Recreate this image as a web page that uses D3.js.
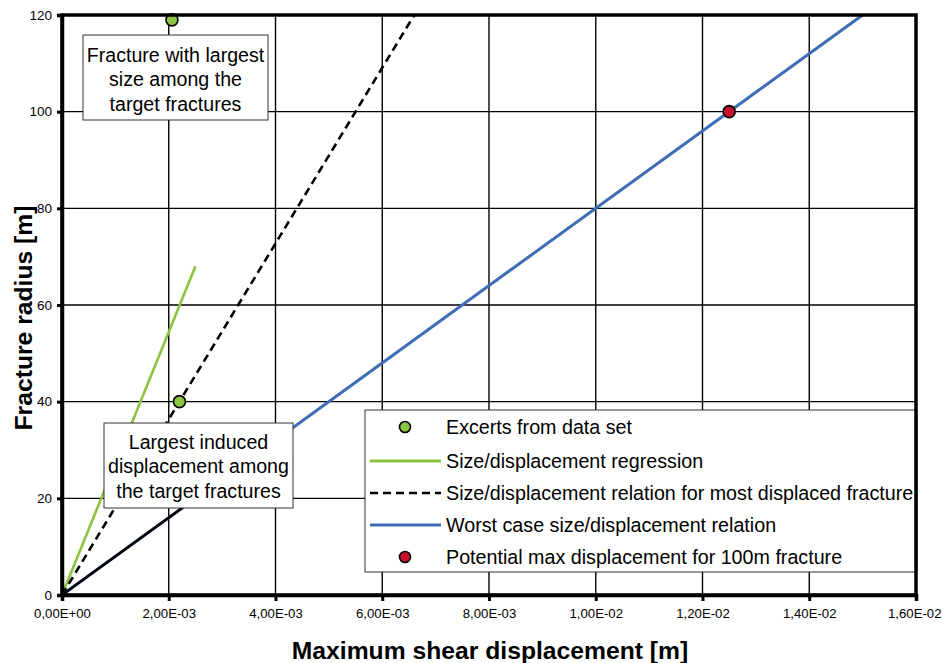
<!DOCTYPE html>
<html>
<head>
<meta charset="utf-8">
<script src="https://cdn.jsdelivr.net/npm/d3@7"></script>
<style>
  html, body { margin: 0; padding: 0; background: #fff; }
  svg { display: block; font-family: Arial, "Liberation Sans", sans-serif; }
</style>
</head>
<body>
<svg id="chart" width="942" height="663"></svg>
<script>
// Axis ticks
const xTicks = [0, 0.002, 0.004, 0.006, 0.008, 0.010, 0.012, 0.014, 0.016];
const xTickLabels = ["0,00E+00", "2,00E-03", "4,00E-03", "6,00E-03", "8,00E-03", "1,00E-02", "1,20E-02", "1,40E-02", "1,60E-02"];
const yTicks = [0, 20, 40, 60, 80, 100, 120];

// Sample fractures (displacement [m], radius [m])
const excerpts = [[0.00206, 119], [0.0022, 40]];
// Size/displacement regression
const regression = [[0, 0], [0.0025, 68]];
// Relation through the most displaced fracture
const mostDisplaced = [[0, 0], [0.0066, 120]];
// Worst case relation
const worstCase = [[0, 0], [0.015, 120]];
// Potential max displacement for a 100 m fracture
const potentialMax = [[0.0125, 100]];

const legendItems = [
  { type: "dot", color: "#8cc43f", label: "Excerts from data set" },
  { type: "line", color: "#8cc43f", dash: null, label: "Size/displacement regression" },
  { type: "line", color: "#000", dash: "8,5", label: "Size/displacement relation for most displaced fracture" },
  { type: "line", color: "#3f6db5", dash: null, label: "Worst case size/displacement relation" },
  { type: "dot", color: "#c8102e", label: "Potential max displacement for 100m fracture" }
];

const svg = d3.select("#chart");
const plotL = 62, plotR = 916, plotT = 15, plotB = 595;

const x = d3.scaleLinear().domain([0, 0.016]).range([plotL, plotR]);
const y = d3.scaleLinear().domain([0, 120]).range([plotB, plotT]);

// Grid
const grid = svg.append("g");
grid.selectAll("line.v").data(xTicks).join("line")
  .attr("x1", d => x(d)).attr("x2", d => x(d))
  .attr("y1", plotT).attr("y2", plotB)
  .attr("stroke", "#000").attr("stroke-width", 1.4);
grid.selectAll("line.h").data(yTicks).join("line")
  .attr("x1", plotL).attr("x2", plotR)
  .attr("y1", d => y(d)).attr("y2", d => y(d))
  .attr("stroke", "#000").attr("stroke-width", 1.4);

const line = d3.line().x(d => x(d[0])).y(d => y(d[1]));

// Series lines
svg.append("path").datum(worstCase).attr("d", line)
  .attr("fill", "none").attr("stroke", "#3f6db5").attr("stroke-width", 3);
svg.append("path").datum(regression).attr("d", line)
  .attr("fill", "none").attr("stroke", "#8cc43f").attr("stroke-width", 2.6);
svg.append("path").datum(mostDisplaced).attr("d", line)
  .attr("fill", "none").attr("stroke", "#000").attr("stroke-width", 2.6)
  .attr("stroke-dasharray", "8,5");

// Callout leader for the displacement note, along the worst-case line
svg.append("path").datum([[0, 0], [0.00228, 18.24]]).attr("d", line)
  .attr("fill", "none").attr("stroke", "#000").attr("stroke-width", 2.6);

// Points
svg.selectAll("circle.ex").data(excerpts).join("circle")
  .attr("cx", d => x(d[0])).attr("cy", d => y(d[1])).attr("r", 6)
  .attr("fill", "#8cc43f").attr("stroke", "#000").attr("stroke-width", 1.6);
svg.selectAll("circle.pm").data(potentialMax).join("circle")
  .attr("cx", d => x(d[0])).attr("cy", d => y(d[1])).attr("r", 6)
  .attr("fill", "#c8102e").attr("stroke", "#000").attr("stroke-width", 1.6);

// Annotation boxes
function note(x0, y0, w, h, lines, cx, firstBaseline, step) {
  svg.append("rect").attr("x", x0).attr("y", y0).attr("width", w).attr("height", h)
    .attr("fill", "#fff").attr("stroke", "#333").attr("stroke-width", 1);
  svg.append("text").attr("text-anchor", "middle").attr("font-size", 19.6).attr("fill", "#000")
    .selectAll("tspan").data(lines).join("tspan")
    .attr("x", cx).attr("y", (d, i) => firstBaseline + i * step).text(d => d);
}
note(83, 35, 185, 85, ["Fracture with largest", "size among the", "target fractures"], 175.5, 61.5, 24.5);
note(104, 423, 189, 85, ["Largest induced", "displacement among", "the target fractures"], 198.5, 448.5, 24.8);

// Legend
const lg = svg.append("g");
lg.append("rect").attr("x", 365).attr("y", 410).attr("width", 552).attr("height", 162)
  .attr("fill", "#fff").attr("stroke", "#333").attr("stroke-width", 1);
const rowY = [427, 461, 493, 525, 557];
legendItems.forEach((it, i) => {
  const yy = rowY[i];
  if (it.type === "dot") {
    lg.append("circle").attr("cx", 405).attr("cy", yy).attr("r", 5.5)
      .attr("fill", it.color).attr("stroke", "#000").attr("stroke-width", 1.6);
  } else {
    lg.append("line").attr("x1", 370).attr("x2", 441).attr("y1", yy).attr("y2", yy)
      .attr("stroke", it.color).attr("stroke-width", it.dash ? 2.6 : 3)
      .attr("stroke-dasharray", it.dash);
  }
  lg.append("text").attr("x", 446).attr("y", yy + 7).attr("font-size", 19.7)
    .attr("fill", "#000").text(it.label);
});

// Plot frame
svg.append("rect").attr("x", plotL).attr("y", plotT).attr("width", plotR - plotL).attr("height", plotB - plotT)
  .attr("fill", "none").attr("stroke", "#000").attr("stroke-width", 3.5);

// Axes
const xAxis = d3.axisBottom(x).tickValues(xTicks)
  .tickFormat((d, i) => xTickLabels[i]).tickSize(6).tickPadding(8);
const gx = svg.append("g").attr("transform", `translate(0,${plotB})`).call(xAxis);
gx.select(".domain").attr("stroke-width", 3.5);
gx.selectAll(".tick line").attr("stroke-width", 3);
gx.selectAll(".tick text").attr("font-size", 13.2).attr("font-family", "Arial, 'Liberation Sans', sans-serif").attr("fill", "#000");
// keep the last label inside the page edge
gx.selectAll(".tick text").filter((d, i) => i === xTicks.length - 1)
  .attr("text-anchor", "end").attr("x", 942 - plotR - 1);

const yAxis = d3.axisLeft(y).tickValues(yTicks).tickSize(5).tickPadding(5);
const gy = svg.append("g").attr("transform", `translate(${plotL},0)`).call(yAxis);
gy.select(".domain").attr("stroke-width", 3.5);
gy.selectAll(".tick line").attr("stroke-width", 3);
gy.selectAll(".tick text").attr("font-size", 13.5).attr("font-family", "Arial, 'Liberation Sans', sans-serif").attr("fill", "#000");

// Axis titles
svg.append("text").attr("x", 490).attr("y", 659)
  .attr("text-anchor", "middle").attr("font-size", 24.7).attr("font-weight", "bold")
  .text("Maximum shear displacement [m]");
svg.append("text").attr("transform", "translate(32,318) rotate(-90)")
  .attr("text-anchor", "middle").attr("font-size", 24.7).attr("font-weight", "bold")
  .text("Fracture radius [m]");
</script>
</body>
</html>
